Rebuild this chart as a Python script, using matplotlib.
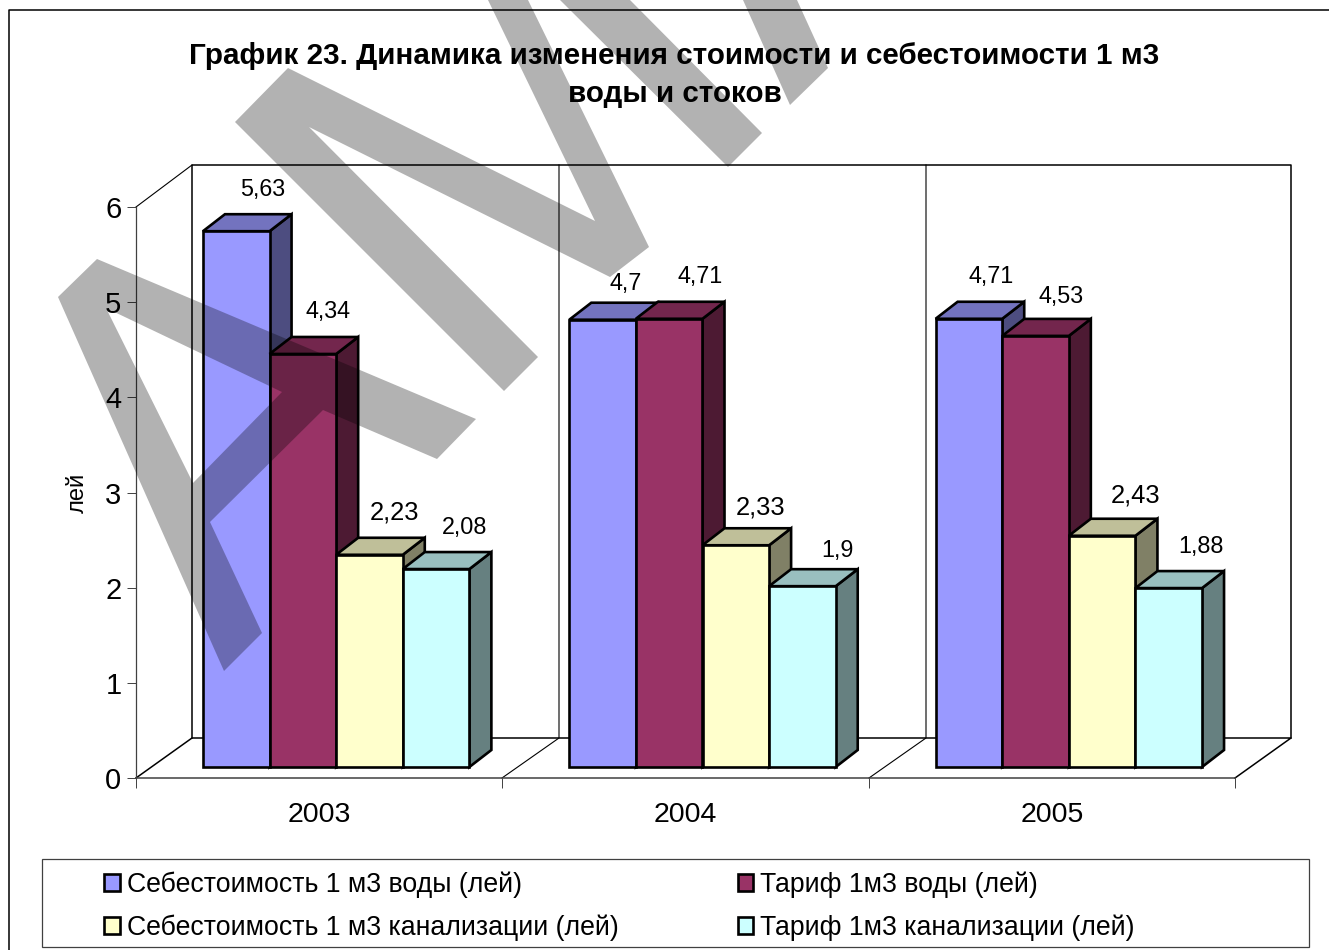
import matplotlib
matplotlib.use("Agg")
import matplotlib.pyplot as plt
import numpy as np
from matplotlib.patches import Patch, PathPatch, Rectangle
from matplotlib.path import Path

plt.rcParams["font.family"] = ["Liberation Sans", "DejaVu Sans"]

years = ["2003", "2004", "2005"]
series_names = [
    "Себестоимость 1 м3 воды (лей)",
    "Тариф 1м3 воды (лей)",
    "Себестоимость 1 м3 канализации (лей)",
    "Тариф 1м3 канализации (лей)",
]
water_cost = [5.63, 4.7, 4.71]
water_tariff = [4.34, 4.71, 4.53]
sewer_cost = [2.23, 2.33, 2.43]
sewer_tariff = [2.08, 1.9, 1.88]
series_values = [water_cost, water_tariff, sewer_cost, sewer_tariff]
value_labels = [
    ["5,63", "4,7", "4,71"],
    ["4,34", "4,71", "4,53"],
    ["2,23", "2,33", "2,43"],
    ["2,08", "1,9", "1,88"],
]
colors = ["#9999FF", "#993366", "#FFFFCC", "#CCFFFF"]

W, H = 1329, 950
# how far each label sits from the bar's top middle, in pixels
label_offsets = [
    [(26, 42), (23, 36), (22, 42)],
    [(25, 42), (31, 42), (26, 39)],
    [(25, 42), (25, 38), (33, 40)],
    [(28, 42), (35, 36), (32, 42)],
]
# the third series is printed a little larger in the original
label_sizes = [16.8, 16.8, 18.4, 16.8]


def box(left, top, right, bottom):
    return [left / W, 1 - bottom / H, (right - left) / W, (bottom - top) / H]


def shade(color, f):
    return tuple(c * f for c in matplotlib.colors.to_rgb(color))


fig = plt.figure(figsize=(W / 100, H / 100), dpi=100)

# background layer in pixels: frame, walls, floor, legend box
bg = fig.add_axes([0, 0, 1, 1], zorder=0)
bg.set_xlim(0, W)
bg.set_ylim(H, 0)
bg.axis("off")
bg.plot([9, 9, W], [H, 10, 10], color="black", lw=1.1)
bg.plot([136, 192], [207, 165], color="black", lw=0.8)
bg.plot([192, 192, 1291, 1291], [738, 165, 165, 738], color="black", lw=1.1)
bg.plot([136, 192, 1291, 1235], [778, 738, 738, 778], color="black", lw=1.1)
for x in [502, 869]:
    bg.plot([x, x + 57, x + 57], [778, 738, 165], color="black", lw=0.8)
bg.add_patch(Rectangle((41.5, 859), 1267.5, 88, fc="white", ec="#404040", lw=0.9))

# front plane of the chart box: the visible axis
ax = fig.add_axes(box(136, 207, 1235, 778), zorder=1)
ax.patch.set_alpha(0)
ax.set_xlim(0, 3)
ax.set_ylim(0, 6)
for s in ["top", "right"]:
    ax.spines[s].set_visible(False)
ax.spines["left"].set_color("#404040")
ax.spines["left"].set_linewidth(0.9)
ax.spines["bottom"].set_color("#404040")
ax.spines["bottom"].set_linewidth(1.1)
ax.set_yticks(range(7))
ax.tick_params(axis="y", length=6.5, width=0.7, color="#404040", labelsize=21, pad=4)
ax.set_xticks(range(4))
ax.set_xticklabels([])
ax.tick_params(axis="x", which="major", length=7, width=0.7, color="#404040")
ax.set_xticks(np.arange(3) + 0.5, years, minor=True)
ax.tick_params(axis="x", which="minor", length=0, labelsize=20.5, pad=17)
ax.set_ylabel("лей", fontsize=17, labelpad=12)

# the bars stand 11 px in front of the axis line and a bit to the right
bars = fig.add_axes(box(153, 196, 1252, 767), zorder=2)
bars.axis("off")
bars.set_xlim(0, 3)
bars.set_ylim(0, 6)

n = len(series_values)
bar_w = 1 / 5.5
gap = 0.75 * bar_w
depth_x = 22 / (1099 / 3)
depth_y = 17 / (571 / 6)
edge = dict(edgecolor="black", linewidth=1.9, joinstyle="miter", clip_on=False)

for i, values in enumerate(series_values):
    left = np.arange(3) + gap + i * bar_w
    for x, v in zip(left, values):
        bars.fill([x + bar_w, x + bar_w + depth_x, x + bar_w + depth_x, x + bar_w],
                  [0, depth_y, v + depth_y, v],
                  facecolor=shade(colors[i], 0.5), zorder=2 * i + 1, **edge)
        bars.fill([x, x + depth_x, x + bar_w + depth_x, x + bar_w],
                  [v, v + depth_y, v + depth_y, v],
                  facecolor=shade(colors[i], 0.75), zorder=2 * i + 1, **edge)
    bars.bar(left, values, bar_w, align="edge", color=colors[i], zorder=2 * i + 2, **edge)
    for j, (x, v) in enumerate(zip(left, values)):
        bars.annotate(value_labels[i][j], (x + bar_w / 2, v), xytext=label_offsets[i][j],
                      textcoords="offset pixels", ha="center", va="center",
                      fontsize=label_sizes[i], zorder=50, annotation_clip=False)

handles = [Patch(facecolor=colors[i], edgecolor="black", linewidth=1.9) for i in range(n)]
# columns fill top to bottom, so the order is blue, yellow, maroon, cyan
order = [0, 2, 1, 3]
leg = fig.legend([handles[i] for i in order], [series_names[i] for i in order],
                 ncols=2, frameon=False, fontsize=19.15, loc="center left",
                 bbox_to_anchor=(104 / W, 1 - 906 / H), borderpad=0, borderaxespad=0,
                 handlelength=0.6, handleheight=0.6, handletextpad=0.26,
                 labelspacing=0.61, columnspacing=4.47)
leg.set_zorder(3)

fig.text(674.5 / W, 1 - 75 / H, "График 23. Динамика изменения стоимости и себестоимости 1 м3\nводы и стоков",
         ha="center", va="center", fontsize=21.3, fontweight="bold", linespacing=1.41)

# grey watermark letters, darkens whatever is underneath
wm = fig.add_axes([0, 0, 1, 1], zorder=5)
wm.set_xlim(0, W)
wm.set_ylim(H, 0)
wm.axis("off")
letter1 = [(97, 259), (476, 419), (437, 459), (323, 410), (210, 522), (262, 633), (224, 671), (58, 297), (97, 259)]
hole1 = [(106, 308), (193, 483), (282, 392), (106, 308)]
codes = [Path.MOVETO] + [Path.LINETO] * (len(letter1) - 2) + [Path.CLOSEPOLY]
codes += [Path.MOVETO] + [Path.LINETO] * (len(hole1) - 2) + [Path.CLOSEPOLY]
wm.add_patch(PathPatch(Path(letter1 + hole1, codes), fc="black", ec="none", alpha=0.3))
letter2 = [(288, 68), (595, 221), (488, 0), (528, 0), (649, 247), (610, 277), (309, 127), (538, 357), (504, 391), (235, 122)]
letter3 = [(560, 0), (728, 167), (762, 133), (630, 0)]
letter4 = [(743, 0), (790, 105), (828, 68), (797, 0)]
for pts in [letter2, letter3, letter4]:
    wm.fill(*zip(*pts), color="black", alpha=0.3, lw=0)

fig.savefig("out.png", dpi=100)
